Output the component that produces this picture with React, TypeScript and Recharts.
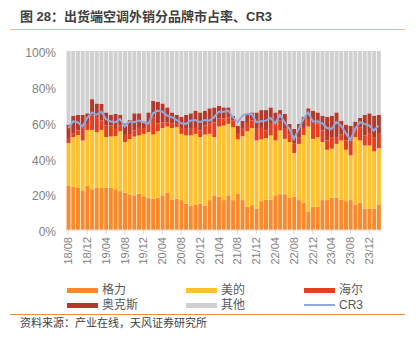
import { ComposedChart, Bar, Line, XAxis, YAxis } from "recharts";

const months = [
  "18/08", "18/09", "18/10", "18/11", "18/12",
  "19/01", "19/02", "19/03", "19/04", "19/05", "19/06", "19/07", "19/08", "19/09", "19/10", "19/11", "19/12",
  "20/01", "20/02", "20/03", "20/04", "20/05", "20/06", "20/07", "20/08", "20/09", "20/10", "20/11", "20/12",
  "21/01", "21/02", "21/03", "21/04", "21/05", "21/06", "21/07", "21/08", "21/09", "21/10", "21/11", "21/12",
  "22/01", "22/02", "22/03", "22/04", "22/05", "22/06", "22/07", "22/08", "22/09", "22/10", "22/11", "22/12",
  "23/01", "23/02", "23/03", "23/04", "23/05", "23/06", "23/07", "23/08", "23/09", "23/10", "23/11", "23/12",
  "24/01", "24/02",
];

// 各品牌份额 (%)
const gree = [
  24.6, 24.1, 23.5, 22.2, 24.6, 22.8, 23.5, 23.5, 23.5, 23.5, 22.8, 21.7, 20.9, 19.8, 19.4, 20.4, 18.9,
  18.1, 17.6, 18.1, 19.4, 20.9, 17.0, 17.6, 16.7, 14.8, 13.5, 14.3, 14.8, 13.5, 16.7, 19.4, 18.5, 16.7,
  19.4, 16.7, 20.4, 16.7, 13.0, 13.9, 12.0, 16.1, 17.0, 17.0, 19.4, 20.0, 20.0, 18.0, 18.5, 16.7, 15.4,
  10.2, 13.0, 13.0, 16.7, 16.7, 18.0, 18.0, 17.0, 16.1, 16.7, 14.3, 15.2, 12.0, 12.0, 12.0, 14.3,
];
const midea = [
  23.9, 27.8, 29.6, 27.8, 31.3, 33.1, 31.1, 32.4, 28.4, 28.7, 29.6, 33.5, 28.2, 31.1, 32.8, 32.4, 34.8,
  36.5, 35.7, 37.1, 37.6, 36.9, 40.0, 39.8, 37.0, 38.0, 39.3, 39.4, 37.1, 39.8, 37.0, 32.5, 39.3, 41.6,
  39.9, 40.7, 30.2, 35.7, 42.2, 43.1, 38.0, 34.5, 34.3, 35.8, 30.6, 35.6, 30.9, 31.1, 24.5, 31.4, 37.7,
  47.6, 37.9, 38.9, 32.4, 28.1, 27.4, 30.1, 33.0, 28.7, 25.0, 37.6, 34.8, 35.2, 35.2, 31.9, 31.4,
];
const haier = [
  2.4, 2.2, 2.5, 6.5, 3.4, 8.0, 8.4, 5.2, 6.4, 6.1, 4.6, 3.1, 4.0, 2.8, 3.4, 4.2, 2.8,
  4.7, 9.7, 4.4, 3.2, 2.4, 2.6, 1.9, 3.3, 3.7, 3.7, 3.3, 3.7, 5.0, 5.6, 8.3, 4.6, 4.1,
  3.7, 3.7, 3.1, 4.1, 4.6, 4.1, 6.5, 6.4, 4.3, 7.0, 9.3, 5.5, 6.1, 4.2, 5.5, 3.8, 3.9,
  4.2, 8.4, 7.7, 6.5, 5.2, 6.5, 3.8, 3.3, 5.2, 8.3, 4.0, 7.4, 5.6, 6.9, 8.0, 8.0,
];
const aux = [
  8.0, 9.8, 8.8, 7.9, 5.9, 9.2, 7.7, 9.3, 7.4, 6.1, 7.8, 6.1, 6.5, 7.8, 9.6, 8.2, 4.2,
  6.4, 9.2, 12.1, 10.5, 8.3, 6.1, 5.1, 6.3, 7.9, 8.7, 9.7, 10.1, 8.4, 8.7, 8.3, 7.0, 6.1,
  5.5, 2.8, 4.6, 4.6, 5.4, 4.6, 9.2, 10.0, 11.4, 8.7, 6.4, 5.9, 7.8, 6.0, 8.0, 7.4, 6.3,
  6.0, 7.4, 6.1, 8.3, 13.3, 12.0, 13.8, 7.8, 8.9, 8.3, 4.7, 5.2, 11.6, 11.1, 12.0, 10.7,
];
const others = [
  41.1, 36.1, 35.6, 35.6, 34.8, 26.9, 29.3, 29.6, 34.3, 35.6, 35.2, 35.6, 40.4, 38.5, 34.8, 34.8, 39.3,
  34.3, 27.8, 28.3, 29.3, 31.5, 34.3, 35.6, 36.7, 35.6, 34.8, 33.3, 34.3, 33.3, 32.0, 31.5, 30.6, 31.5,
  31.5, 36.1, 41.7, 38.9, 34.8, 34.3, 34.3, 33.0, 33.0, 31.5, 34.3, 33.0, 35.2, 40.7, 43.5, 40.7, 36.7,
  32.0, 33.3, 34.3, 36.1, 36.7, 36.1, 34.3, 38.9, 41.1, 41.7, 39.4, 37.4, 35.6, 34.8, 36.1, 35.6,
];
const cr3 = [
  57.0, 60.7, 60.2, 57.8, 62.6, 65.7, 64.4, 66.1, 62.0, 60.6, 60.2, 62.0, 57.8, 60.7, 60.2, 61.1, 60.2,
  59.3, 65.2, 66.7, 66.1, 63.9, 63.0, 61.5, 59.6, 59.3, 61.1, 61.5, 60.2, 61.5, 61.1, 63.0, 66.1, 66.1,
  66.7, 63.0, 60.2, 63.9, 64.8, 64.8, 60.2, 60.7, 61.1, 62.6, 59.6, 64.4, 60.2, 56.5, 50.9, 56.5, 62.0,
  65.7, 60.6, 60.7, 59.6, 57.0, 56.5, 60.2, 58.3, 54.1, 50.4, 56.5, 60.2, 59.3, 58.3, 55.6, 58.3,
];

const yTicks = [0, 20, 40, 60, 80, 100];

const series = [
  { key: "gree", name: "格力", color: "#F98A2B" },
  { key: "midea", name: "美的", color: "#FFC12E" },
  { key: "haier", name: "海尔", color: "#E2401E" },
  { key: "aux", name: "奥克斯", color: "#B23A2C" },
  { key: "others", name: "其他", color: "#D0D0D0" },
];
const lineColor = "#8EAADF";

const data = months.map((month, i) => ({
  month,
  gree: gree[i],
  midea: midea[i],
  haier: haier[i],
  aux: aux[i],
  others: others[i],
  cr3: cr3[i],
}));

const cjk = '"Liberation Sans", Arial, "Noto Sans CJK SC", sans-serif';

function MonthTick({ x, y, payload }: any) {
  return (
    <text
      x={x}
      y={y}
      transform={`rotate(-90, ${x}, ${y})`}
      textAnchor="end"
      dy="0.35em"
      fill="#7F7F7F"
      fontSize={11}
      fontFamily={cjk}
    >
      {payload.value}
    </text>
  );
}

function PctTick({ x, y, payload }: any) {
  return (
    <text x={x} y={y + 2} textAnchor="end" dy="0.35em" fill="#7F7F7F" fontSize={12} fontFamily={cjk}>
      {`${payload.value}%`}
    </text>
  );
}

const legendItems = [
  ...series.map((s) => ({ name: s.name, color: s.color, line: false })),
  { name: "CR3", color: lineColor, line: true },
];
const colX = [67, 186, 304];
const rowY = [290, 305];

export default function App() {
  return (
    <div
      style={{
        position: "absolute",
        left: 0,
        top: 0,
        width: 416,
        height: 350,
        background: "#fff",
        fontFamily: cjk,
        color: "#404040",
      }}
    >
      <div
        style={{
          position: "absolute",
          left: 20,
          top: 8,
          fontSize: 13,
          fontWeight: "bold",
          lineHeight: "18px",
          whiteSpace: "nowrap",
          color: "#3f3f3f",
        }}
      >
        图 28：出货端空调外销分品牌市占率、CR3
      </div>
      <div style={{ position: "absolute", left: 10, top: 29, width: 395, height: 1, background: "#F6B682" }} />

      <div style={{ position: "absolute", left: 0, top: 0 }}>
        <ComposedChart
          width={416}
          height={280}
          data={data}
          margin={{ top: 51, right: 35, bottom: 0, left: 0 }}
          barCategoryGap="12%"
        >
          <YAxis
            type="number"
            domain={[0, 100]}
            ticks={yTicks}
            allowDataOverflow
            width={66}
            axisLine={false}
            tickLine={false}
            tickMargin={4}
            tick={<PctTick />}
          />
          <XAxis
            dataKey="month"
            interval={3}
            height={50}
            axisLine={{ stroke: "#D9D9D9" }}
            tickLine={{ stroke: "#D9D9D9" }}
            tickSize={4}
            tickMargin={3}
            tick={<MonthTick />}
          />
          {series.map((s) => (
            <Bar
              key={s.key}
              dataKey={s.key}
              name={s.name}
              stackId="share"
              fill={s.color}
              isAnimationActive={false}
            />
          ))}
          <Line
            dataKey="cr3"
            name="CR3"
            type="linear"
            stroke={lineColor}
            strokeWidth={2}
            dot={false}
            activeDot={false}
            isAnimationActive={false}
          />
        </ComposedChart>
      </div>

      {legendItems.map((item, k) => {
        const cx = colX[k % 3];
        const cy = rowY[Math.floor(k / 3)];
        return (
          <div key={item.name}>
            <div
              style={{
                position: "absolute",
                left: cx,
                top: item.line ? cy - 1 : cy - 2.5,
                width: 31,
                height: item.line ? 2 : 5,
                background: item.color,
              }}
            />
            <div
              style={{
                position: "absolute",
                left: cx + 35,
                top: cy - 8,
                fontSize: 12,
                lineHeight: "16px",
                whiteSpace: "nowrap",
                color: "#595959",
              }}
            >
              {item.name}
            </div>
          </div>
        );
      })}

      <div style={{ position: "absolute", left: 10, top: 314, width: 395, height: 1, background: "#F08A32" }} />
      <div
        style={{
          position: "absolute",
          left: 20,
          top: 315,
          fontSize: 11,
          lineHeight: "16px",
          whiteSpace: "nowrap",
          color: "#404040",
        }}
      >
        资料来源：产业在线，天风证券研究所
      </div>
    </div>
  );
}
